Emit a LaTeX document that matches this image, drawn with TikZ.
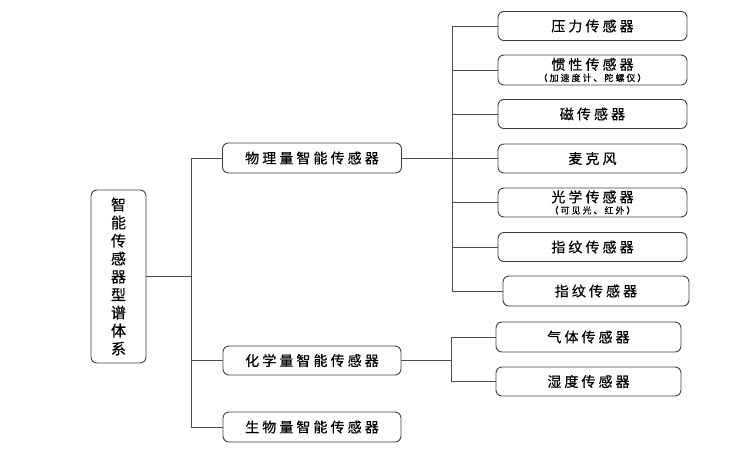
\documentclass[tikz,border=0pt]{standalone}
\usepackage{fontspec}
\setmainfont[LetterSpace=22,FakeBold=0.4]{Noto Sans CJK SC}
\begin{document}
\begin{tikzpicture}[x=1pt,y=-1pt,
  box/.style={draw=black!75,line width=0.9pt,rounded corners=6pt,fill=white,inner sep=0pt,font=\fontsize{14}{15}\selectfont,align=center},
  conn/.style={draw=black!70,line width=0.8pt}]
\useasboundingbox (0,0) rectangle (745,450);
% root
\node[box,minimum width=55,minimum height=173,font=\fontsize{15}{18}\selectfont] (root) at (118.5,276.5) {智\\能\\传\\感\\器\\型\\谱\\体\\系};
% middle
\node[box,minimum width=179,minimum height=30] (phy) at (312,158) {物理量智能传感器};
\node[box,minimum width=178,minimum height=29] (chem) at (312,360.5) {化学量智能传感器};
\node[box,minimum width=178,minimum height=30] (bio) at (312,427) {生物量智能传感器};
% right physical
\node[box,minimum width=189,minimum height=29] (p1) at (592.5,26) {压力传感器};
\node[box,minimum width=189,minimum height=30] (p2) at (592.5,70) {惯性传感器\\[-3.5pt]{\fontsize{9}{10}\selectfont （加速度计、陀螺仪）}};
\node[box,minimum width=189,minimum height=29] (p3) at (592.5,114) {磁传感器};
\node[box,minimum width=189,minimum height=29] (p4) at (592.5,158.5) {麦克风};
\node[box,minimum width=189,minimum height=29] (p5) at (592.5,202.5) {光学传感器\\[-3.5pt]{\fontsize{9}{10}\selectfont （可见光、红外）}};
\node[box,minimum width=189,minimum height=29] (p6) at (592.5,247) {指纹传感器};
\node[box,minimum width=186,minimum height=30] (p7) at (596,291) {指纹传感器};
% right chemical
\node[box,minimum width=185,minimum height=30] (c1) at (588.5,337) {气体传感器};
\node[box,minimum width=185,minimum height=29] (c2) at (588.5,381.5) {湿度传感器};
% trunks
\coordinate (t0) at (191,0);
\coordinate (t1) at (452,0);
\coordinate (t2) at (451,0);
% root connectors
\draw[conn] (root.east) -- (root.east -| t0);
\draw[conn] (phy.west -| t0) -- (bio.west -| t0);
\draw[conn] (phy.west -| t0) -- (phy.west);
\draw[conn] (chem.west -| t0) -- (chem.west);
\draw[conn] (bio.west -| t0) -- (bio.west);
% physical
\draw[conn] (phy.east) -- (phy.east -| t1);
\draw[conn] (p1.west -| t1) -- (p7.west -| t1);
\foreach \n in {p1,p2,p3,p4,p5,p6,p7} \draw[conn] (\n.west -| t1) -- (\n.west);
% chemical
\draw[conn] (chem.east) -- (chem.east -| t2);
\draw[conn] (c1.west -| t2) -- (c2.west -| t2);
\draw[conn] (c1.west -| t2) -- (c1.west);
\draw[conn] (c2.west -| t2) -- (c2.west);
\end{tikzpicture}
\end{document}
